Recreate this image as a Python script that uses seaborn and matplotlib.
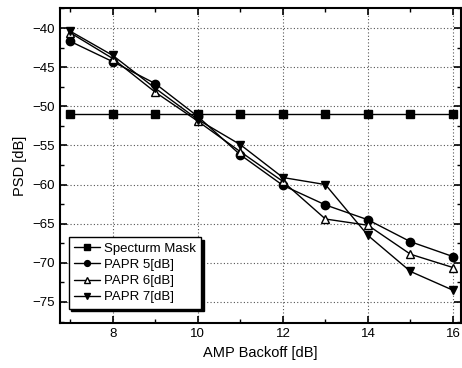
import matplotlib
matplotlib.use("Agg")
import matplotlib.pyplot as plt
import seaborn as sns
import pandas as pd
from matplotlib.ticker import MultipleLocator

backoff = [7, 8, 9, 10, 11, 12, 13, 14, 15, 16]
mask = [-51.0, -51.0, -51.0, -51.0, -51.0, -51.0, -51.0, -51.0, -51.0, -51.0]
papr5 = [-41.7, -44.3, -47.1, -51.3, -56.2, -60.1, -62.6, -64.5, -67.3, -69.2]
papr6 = [-40.6, -43.9, -48.2, -51.9, -55.8, -59.6, -64.4, -65.2, -68.9, -70.6]
papr7 = [-40.4, -43.5, -47.7, -51.7, -54.9, -59.1, -60.0, -66.5, -71.1, -73.5]
series_names = ["Specturm Mask", "PAPR 5[dB]", "PAPR 6[dB]", "PAPR 7[dB]"]

sns.set_theme(style="ticks")
plt.rcParams["font.family"] = ["Liberation Sans", "DejaVu Sans"]
plt.rcParams["text.color"] = "black"
plt.rcParams["axes.labelcolor"] = "black"

df = pd.DataFrame({
    "x": backoff * 4,
    "y": mask + papr5 + papr6 + papr7,
    "s": sum([[n] * len(backoff) for n in series_names], []),
})

fig = plt.figure(figsize=(4.62, 3.68), dpi=100)
ax = fig.add_axes([0.130, 0.122, 0.868, 0.856])

markers = {"Specturm Mask": "s", "PAPR 5[dB]": "o", "PAPR 6[dB]": "^", "PAPR 7[dB]": "v"}
for name in series_names:
    sub = df[df["s"] == name]
    mfc = "white" if name == "PAPR 6[dB]" else "black"
    sns.lineplot(data=sub, x="x", y="y", ax=ax, color="black", lw=1.0,
                 marker=markers[name], markersize=6, markerfacecolor=mfc,
                 markeredgecolor="black", markeredgewidth=1.0, label=name)

ax.set_xlim(6.76, 16.19)
ax.set_ylim(-77.7, -37.45)
ax.xaxis.set_major_locator(MultipleLocator(2))
ax.xaxis.set_minor_locator(MultipleLocator(1))
ax.yaxis.set_major_locator(MultipleLocator(5))
ax.yaxis.set_minor_locator(MultipleLocator(2.5))
ax.grid(True, which="major", linestyle=(0, (1, 2)), color="#555555", lw=0.8)
ax.tick_params(which="both", direction="in", top=True, right=True, labelsize=9.5,
               colors="black", labelcolor="black")
ax.tick_params(which="major", length=5, width=1.2)
ax.tick_params(which="minor", length=3, width=1.0)
for sp in ax.spines.values():
    sp.set_linewidth(1.5)
    sp.set_color("black")
ax.set_xlabel("AMP Backoff [dB]", fontsize=10.5, color="black")
ax.set_ylabel("PSD [dB]", fontsize=10.5, color="black")

leg = ax.legend(loc="lower left", bbox_to_anchor=(0.005, 0.025), fontsize=9.5,
                frameon=True, fancybox=False, shadow={"color": "black", "alpha": 1},
                edgecolor="black", handlelength=2.0, borderpad=0.4,
                labelspacing=0.3, handletextpad=0.3, markerscale=0.7)
leg.get_frame().set_linewidth(1.0)
leg.get_frame().set_alpha(1)
for t in leg.get_texts():
    t.set_color("black")

fig.savefig("out.png", dpi=100)
